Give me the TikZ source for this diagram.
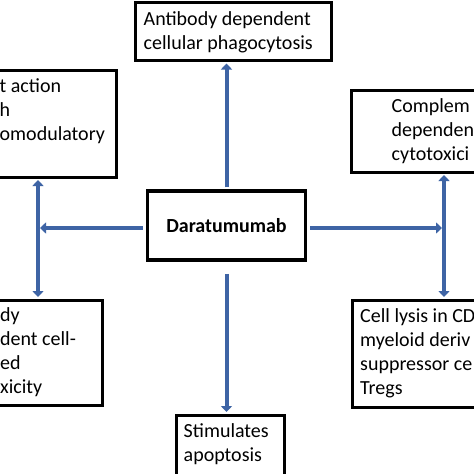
\documentclass[tikz,border=0pt]{standalone}
\usepackage{fontspec}
\setmainfont{Carlito}
\usetikzlibrary{arrows.meta}
\definecolor{arrblue}{RGB}{62,100,165}
\newcommand\boxlines[1]{\begin{tabular}[t]{@{}l@{}}#1\end{tabular}}
\tikzset{
  boxnode/.style={draw=black, line width=3pt, inner sep=0pt},
  txtnode/.style={anchor=base west, inner sep=0pt,
    font=\fontsize{20}{24}\selectfont},
  conn/.style={draw=arrblue, line width=4pt},
  tipone/.style={conn, -{Triangle[length=6pt,width=11pt]}},
  tipboth/.style={conn, {Triangle[length=6pt,width=11pt]}-{Triangle[length=6pt,width=11pt]}}
}
\begin{document}
\begin{tikzpicture}[x=1pt,y=-1pt]
\useasboundingbox (0,0) rectangle (474,474);
\clip (0,0) rectangle (474,474);
\fill[white] (0,0) rectangle (474,474);

% boxes
\node[boxnode, minimum width=196pt, minimum height=58pt] (apc) at (233.5,31.5) {};
\node[boxnode, minimum width=136pt, minimum height=107pt] (ul) at (48,123.5) {};
\node[boxnode, minimum width=149pt, minimum height=82pt] (ur) at (425.5,131) {};
\node[boxnode, line width=3.5pt, minimum width=158pt, minimum height=69pt,
      font=\fontsize{20}{24}\selectfont\bfseries] (dar) at (226.5,225.5) {Daratumumab};
\node[boxnode, minimum width=172pt, minimum height=105pt] (ll) at (16,352.5) {};
\node[boxnode, minimum width=148pt, minimum height=107pt] (lr) at (426,353.5) {};
\node[boxnode, minimum width=108pt, minimum height=85pt] (apo) at (230,457.5) {};

% texts
\node[txtnode] (tapc) at (143.5,25) {\boxlines{Antibody dependent\\cellular phagocytosis}};
\node[txtnode] (tul) at (-0.5,92) {\boxlines{t action\\h\\omodulatory}};
\node[txtnode] (tur) at (391.5,112) {\boxlines{Complem\\dependen\\cytotoxici}};
\node[txtnode] (tll) at (0,321) {\boxlines{dy\\dent cell-\\ed\\xicity}};
\node[txtnode] (tlr) at (360,322) {\boxlines{Cell lysis in CD\\myeloid deriv\\suppressor ce\\Tregs}};
\node[txtnode] (tapo) at (183.5,437) {\boxlines{Stimulates\\apoptosis}};

% junctions
\coordinate (jl) at (38,228);
\coordinate (jr) at (444,228);

% connectors
\draw[tipone, shorten <=2pt, shorten >=1.5pt] (dar.north) -- (apc.south -| dar.north);
\draw[tipone, shorten <=12pt, shorten >=1.5pt] (dar.south) -- (apo.north -| dar.south);
\draw[tipone, shorten <=3pt, shorten >=2pt] (jl -| dar.west) -- (jl);
\draw[tipone, shorten <=3pt, shorten >=2pt] (jr -| dar.east) -- (jr);
\draw[tipboth, shorten <=1.5pt, shorten >=1.5pt] (ul.south -| jl) -- (ll.north -| jl);
\draw[tipboth, shorten <=1.5pt, shorten >=1.5pt] (ur.south -| jr) -- (lr.north -| jr);
\end{tikzpicture}
\end{document}
